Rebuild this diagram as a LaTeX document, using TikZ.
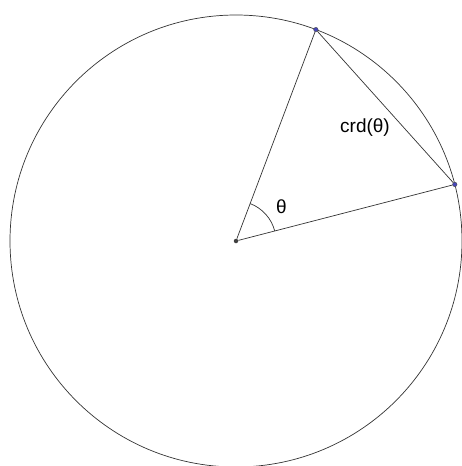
\documentclass[tikz,border=0pt]{standalone}
\usepackage{fontspec}
\setmainfont{Liberation Sans}
\usetikzlibrary{calc}

\begin{document}
\begin{tikzpicture}[
  x=1pt, y=1pt,
  every node/.style={font=\fontsize{19}{21}\selectfont},
  edge/.style={draw=black!80, line width=0.7pt},
  pt/.style={circle, fill=blue!45!gray, draw=black!70, line width=0.4pt, inner sep=0pt, minimum size=4.5pt},
  ctr/.style={circle, fill=black!75, inner sep=0pt, minimum size=4.5pt}
]
\useasboundingbox (0,0) rectangle (461,-466);

%% Circle and its centre
\node[ctr] (O) at (236,-241) {};
\draw[edge] (O.center) circle (226);

%% Points on the circle
\node[pt] (A) at ($(O)+(69.3:226)$) {};
\node[pt] (B) at ($(O)+(14.5:226)$) {};

%% Radii and chord
\draw[edge] (O) -- (A);
\draw[edge] (O) -- (B);
\draw[edge] (A) -- (B);

%% Angle
\draw[edge] ($(O)+(14.5:40)$) arc (14.5:69.3:40);
\node (th) at ($(O)+(37:57)$) {θ};
\node (crd) at (365,-128) {crd(θ)};

\end{tikzpicture}
\end{document}
